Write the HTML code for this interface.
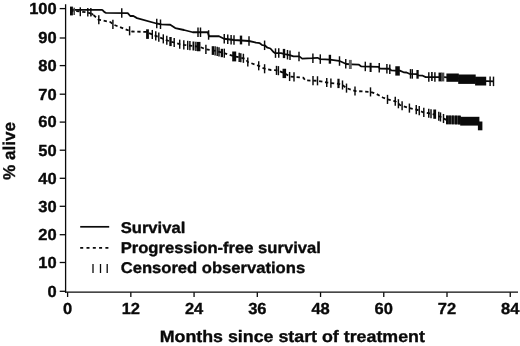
<!DOCTYPE html>
<html><head><meta charset="utf-8"><title>Survival chart</title>
<style>
html,body{margin:0;padding:0;background:#fff;-webkit-font-smoothing:antialiased;}
svg text{text-rendering:geometricPrecision;}
body{width:520px;height:346px;overflow:hidden;position:relative;font-family:"Liberation Sans",sans-serif;}
</style></head><body>
<svg width="520" height="346" viewBox="0 0 520 346" style="position:absolute;left:0;top:0;display:block;will-change:transform;transform:translateZ(0)">
<rect width="520" height="346" fill="#fff"/>
<g stroke="#0a0a0a" stroke-width="1.3" fill="none">
<line x1="65.6" y1="4.3" x2="65.6" y2="292.8"/>
<line x1="65.0" y1="292.2" x2="518" y2="292.2"/>
<line x1="59.7" y1="291.30" x2="65.6" y2="291.30"/>
<line x1="59.7" y1="262.50" x2="65.6" y2="262.50"/>
<line x1="59.7" y1="234.70" x2="65.6" y2="234.70"/>
<line x1="59.7" y1="206.30" x2="65.6" y2="206.30"/>
<line x1="59.7" y1="178.30" x2="65.6" y2="178.30"/>
<line x1="59.7" y1="150.20" x2="65.6" y2="150.20"/>
<line x1="59.7" y1="122.10" x2="65.6" y2="122.10"/>
<line x1="59.7" y1="94.20" x2="65.6" y2="94.20"/>
<line x1="59.7" y1="65.60" x2="65.6" y2="65.60"/>
<line x1="59.7" y1="38.00" x2="65.6" y2="38.00"/>
<line x1="59.7" y1="8.60" x2="65.6" y2="8.60"/>
<line x1="67.60" y1="292.2" x2="67.60" y2="297"/>
<line x1="130.83" y1="292.2" x2="130.83" y2="297"/>
<line x1="194.07" y1="292.2" x2="194.07" y2="297"/>
<line x1="257.30" y1="292.2" x2="257.30" y2="297"/>
<line x1="320.54" y1="292.2" x2="320.54" y2="297"/>
<line x1="383.77" y1="292.2" x2="383.77" y2="297"/>
<line x1="447.00" y1="292.2" x2="447.00" y2="297"/>
<line x1="510.24" y1="292.2" x2="510.24" y2="297"/>
</g>
<g font-family="Liberation Sans, sans-serif" font-weight="bold" fill="#0a0a0a" stroke="#0a0a0a" stroke-width="0.35" stroke-linejoin="round">
<text transform="translate(56.70,296.60) scale(1.03,1)" font-size="16.0" text-anchor="end">0</text>
<text transform="translate(56.70,267.80) scale(1.03,1)" font-size="16.0" text-anchor="end">10</text>
<text transform="translate(56.70,240.00) scale(1.03,1)" font-size="16.0" text-anchor="end">20</text>
<text transform="translate(56.70,211.60) scale(1.03,1)" font-size="16.0" text-anchor="end">30</text>
<text transform="translate(56.70,183.60) scale(1.03,1)" font-size="16.0" text-anchor="end">40</text>
<text transform="translate(56.70,155.50) scale(1.03,1)" font-size="16.0" text-anchor="end">50</text>
<text transform="translate(56.70,127.40) scale(1.03,1)" font-size="16.0" text-anchor="end">60</text>
<text transform="translate(56.70,99.50) scale(1.03,1)" font-size="16.0" text-anchor="end">70</text>
<text transform="translate(56.70,70.90) scale(1.03,1)" font-size="16.0" text-anchor="end">80</text>
<text transform="translate(56.70,43.30) scale(1.03,1)" font-size="16.0" text-anchor="end">90</text>
<text transform="translate(56.70,13.90) scale(1.03,1)" font-size="16.0" text-anchor="end">100</text>
<text transform="translate(67.60,313.90) scale(1.03,1)" font-size="16.0" text-anchor="middle">0</text>
<text transform="translate(130.83,313.90) scale(1.03,1)" font-size="16.0" text-anchor="middle">12</text>
<text transform="translate(194.07,313.90) scale(1.03,1)" font-size="16.0" text-anchor="middle">24</text>
<text transform="translate(257.30,313.90) scale(1.03,1)" font-size="16.0" text-anchor="middle">36</text>
<text transform="translate(320.54,313.90) scale(1.03,1)" font-size="16.0" text-anchor="middle">48</text>
<text transform="translate(383.77,313.90) scale(1.03,1)" font-size="16.0" text-anchor="middle">60</text>
<text transform="translate(447.00,313.90) scale(1.03,1)" font-size="16.0" text-anchor="middle">72</text>
<text transform="translate(510.24,313.90) scale(1.03,1)" font-size="16.0" text-anchor="middle">84</text>
<text transform="translate(292.30,341.60) scale(1.079,1)" font-size="16.5" text-anchor="middle">Months since start of treatment</text>
<text transform="translate(14.90,151.00) rotate(-90)" font-size="17.1" text-anchor="middle">% alive</text>
<text transform="translate(120.70,233.00) scale(1.064,1)" font-size="15.6" text-anchor="start">Survival</text>
<text transform="translate(120.70,253.00) scale(1.064,1)" font-size="15.6" text-anchor="start">Progression-free survival</text>
<text transform="translate(120.70,272.60) scale(1.064,1)" font-size="15.6" text-anchor="start">Censored observations</text>
</g>
<line x1="80.2" y1="226.8" x2="109.2" y2="226.8" stroke="#0a0a0a" stroke-width="1.7"/>
<line x1="80.2" y1="247.9" x2="108.6" y2="247.9" stroke="#0a0a0a" stroke-width="1.8" stroke-dasharray="3 3.3"/>
<line x1="93.0" y1="264" x2="93.0" y2="273" stroke="#0a0a0a" stroke-width="1.3"/>
<line x1="100.5" y1="264" x2="100.5" y2="273" stroke="#0a0a0a" stroke-width="1.3"/>
<line x1="107.2" y1="264" x2="107.2" y2="273" stroke="#0a0a0a" stroke-width="1.3"/>
<path d="M70.25,9.80 L101.70,9.80 L103.00,10.60 L104.50,12.20 L106.00,12.80 L127.75,13.10 L130.25,16.00 L133.40,16.00 L137.00,18.10 L156.50,23.50 L161.50,24.40 L170.25,24.75 L175.25,28.10 L184.00,30.00 L192.75,32.25 L207.75,32.25 L209.00,36.25 L219.00,36.25 L224.00,38.75 L234.00,40.00 L249.00,41.00 L254.00,42.20 L256.00,42.70 L259.80,43.20 L262.25,45.10 L264.65,45.30 L267.50,47.70 L270.40,48.50 L273.80,52.30 L275.20,53.10 L281.00,53.10 L284.80,54.10 L289.65,55.20 L293.50,56.40 L299.30,56.40 L302.20,58.60 L312.60,58.20 L317.40,57.80 L320.30,59.10 L329.90,59.60 L339.00,60.80 L342.40,62.30 L346.20,64.00 L352.00,64.30 L358.60,64.60 L361.00,66.30 L378.80,66.80 L379.70,68.50 L389.30,68.75 L391.30,70.40 L395.10,70.70 L399.80,70.60 L403.60,72.30 L406.50,72.50 L409.40,73.80 L417.10,74.10 L418.00,75.40 L422.80,75.70 L425.70,77.10 L444.00,77.10 L460.00,78.50 L480.00,80.90 L494.00,81.40" fill="none" stroke="#0a0a0a" stroke-width="1.8" stroke-linejoin="round"/>
<path d="M70.25,10.75 L80.00,11.50 L88.00,12.50 L92.75,14.40 L96.00,17.30 L98.40,19.60 L100.00,20.00 L110.50,22.10 L112.90,24.40 L118.00,26.40 L127.00,29.80 L129.60,30.80 L132.00,31.50 L146.00,31.90 L155.00,35.60 L163.00,38.75 L170.00,41.40 L174.20,42.50 L179.70,44.20 L184.00,44.90 L190.00,45.60 L200.00,46.90 L206.00,49.40 L214.00,50.60 L224.00,53.10 L234.00,56.30 L240.00,57.50 L245.50,58.80 L247.80,62.00 L249.50,62.60 L255.90,64.90 L258.70,65.80 L264.60,68.75 L270.90,70.00 L278.00,70.50 L284.00,73.00 L289.60,76.50 L294.00,76.90 L303.40,77.75 L305.25,80.40 L317.50,80.80 L326.75,82.50 L330.90,83.10 L338.50,83.75 L342.50,85.00 L346.50,88.10 L355.00,91.00 L370.50,91.90 L376.50,94.00 L382.75,97.50 L387.50,99.40 L395.25,101.25 L400.00,105.00 L407.50,107.50 L409.40,108.10 L417.75,110.00 L423.00,112.25 L430.00,113.50 L434.50,114.50 L439.60,116.50 L443.50,118.50 L446.50,119.90 L460.00,120.40 L461.00,121.20 L478.50,121.40 L480.20,125.90" fill="none" stroke="#0a0a0a" stroke-width="1.8" stroke-dasharray="3.3 2.7" stroke-linejoin="round"/>
<line x1="446.2" y1="120" x2="461" y2="120.4" stroke="#0a0a0a" stroke-width="2.4"/>
<polygon points="91.4,12.4 94,14.2 91.4,16" fill="#0a0a0a"/>
<rect x="70.00" y="6.60" width="2.90" height="8.80" fill="#0a0a0a"/>
<rect x="73.40" y="7.70" width="1.60" height="7.30" fill="#4a4a4a"/>
<line x1="121.75" y1="8.27" x2="121.75" y2="17.77" stroke="#0a0a0a" stroke-width="1.45"/>
<line x1="156.75" y1="18.80" x2="156.75" y2="28.30" stroke="#0a0a0a" stroke-width="1.45"/>
<line x1="160.50" y1="19.47" x2="160.50" y2="28.97" stroke="#0a0a0a" stroke-width="1.45"/>
<line x1="198.00" y1="27.50" x2="198.00" y2="37.00" stroke="#0a0a0a" stroke-width="1.45"/>
<line x1="200.50" y1="27.50" x2="200.50" y2="37.00" stroke="#0a0a0a" stroke-width="1.45"/>
<line x1="208.60" y1="30.22" x2="208.60" y2="39.72" stroke="#0a0a0a" stroke-width="1.45"/>
<line x1="224.25" y1="34.03" x2="224.25" y2="43.53" stroke="#0a0a0a" stroke-width="1.45"/>
<line x1="227.75" y1="34.47" x2="227.75" y2="43.97" stroke="#0a0a0a" stroke-width="1.45"/>
<line x1="231.10" y1="34.89" x2="231.10" y2="44.39" stroke="#0a0a0a" stroke-width="1.45"/>
<line x1="234.00" y1="35.25" x2="234.00" y2="44.75" stroke="#0a0a0a" stroke-width="1.45"/>
<rect x="239.80" y="35.60" width="2.40" height="8.80" fill="#0a0a0a"/>
<line x1="249.00" y1="36.25" x2="249.00" y2="45.75" stroke="#0a0a0a" stroke-width="1.45"/>
<line x1="264.60" y1="40.55" x2="264.60" y2="50.05" stroke="#0a0a0a" stroke-width="1.45"/>
<line x1="275.50" y1="48.35" x2="275.50" y2="57.85" stroke="#0a0a0a" stroke-width="1.45"/>
<line x1="278.75" y1="48.35" x2="278.75" y2="57.85" stroke="#0a0a0a" stroke-width="1.45"/>
<rect x="282.80" y="48.90" width="2.40" height="9.20" fill="#0a0a0a"/>
<line x1="287.50" y1="49.96" x2="287.50" y2="59.46" stroke="#0a0a0a" stroke-width="1.45"/>
<line x1="290.00" y1="50.56" x2="290.00" y2="60.06" stroke="#0a0a0a" stroke-width="1.45"/>
<line x1="299.00" y1="51.65" x2="299.00" y2="61.15" stroke="#0a0a0a" stroke-width="1.45"/>
<line x1="312.90" y1="53.43" x2="312.90" y2="62.93" stroke="#0a0a0a" stroke-width="1.45"/>
<line x1="320.30" y1="54.35" x2="320.30" y2="63.85" stroke="#0a0a0a" stroke-width="1.45"/>
<rect x="328.70" y="54.80" width="2.40" height="8.90" fill="#0a0a0a"/>
<line x1="339.50" y1="56.27" x2="339.50" y2="65.77" stroke="#0a0a0a" stroke-width="1.45"/>
<line x1="345.75" y1="59.05" x2="345.75" y2="68.55" stroke="#0a0a0a" stroke-width="1.45"/>
<rect x="348.90" y="59.90" width="2.90" height="9.10" fill="#666"/>
<line x1="365.30" y1="61.67" x2="365.30" y2="71.17" stroke="#0a0a0a" stroke-width="1.45"/>
<rect x="369.60" y="62.80" width="2.00" height="9.20" fill="#0a0a0a"/>
<line x1="379.25" y1="62.90" x2="379.25" y2="72.40" stroke="#0a0a0a" stroke-width="1.45"/>
<line x1="386.90" y1="63.94" x2="386.90" y2="73.44" stroke="#0a0a0a" stroke-width="1.45"/>
<line x1="389.80" y1="64.41" x2="389.80" y2="73.91" stroke="#0a0a0a" stroke-width="1.45"/>
<rect x="395.30" y="66.25" width="4.50" height="9.35" fill="#0a0a0a"/>
<line x1="410.50" y1="69.09" x2="410.50" y2="78.59" stroke="#0a0a0a" stroke-width="1.45"/>
<line x1="412.30" y1="69.16" x2="412.30" y2="78.66" stroke="#0a0a0a" stroke-width="1.45"/>
<rect x="416.40" y="70.00" width="2.30" height="8.70" fill="#0a0a0a"/>
<line x1="428.80" y1="72.35" x2="428.80" y2="81.85" stroke="#0a0a0a" stroke-width="1.45"/>
<rect x="431.10" y="72.00" width="1.60" height="9.00" fill="#0a0a0a"/>
<line x1="434.90" y1="72.35" x2="434.90" y2="81.85" stroke="#0a0a0a" stroke-width="1.45"/>
<rect x="438.50" y="72.60" width="3.00" height="8.80" fill="#0a0a0a"/>
<rect x="441.10" y="72.60" width="3.20" height="8.80" fill="#4a4a4a"/>
<rect x="446.40" y="73.50" width="12.40" height="8.30" fill="#0a0a0a"/>
<rect x="458.20" y="74.50" width="17.50" height="9.40" fill="#0a0a0a"/>
<rect x="475.10" y="76.70" width="11.10" height="8.80" fill="#0a0a0a"/>
<line x1="490.10" y1="76.51" x2="490.10" y2="86.01" stroke="#0a0a0a" stroke-width="1.45"/>
<line x1="493.50" y1="76.63" x2="493.50" y2="86.13" stroke="#0a0a0a" stroke-width="1.45"/>
<rect x="79.60" y="7.30" width="1.40" height="8.90" fill="#0a0a0a"/>
<rect x="87.10" y="8.00" width="1.40" height="8.50" fill="#0a0a0a"/>
<rect x="90.15" y="8.00" width="1.40" height="8.50" fill="#0a0a0a"/>
<line x1="98.80" y1="15.15" x2="98.80" y2="24.25" stroke="#0a0a0a" stroke-width="1.45"/>
<line x1="112.90" y1="19.85" x2="112.90" y2="28.95" stroke="#0a0a0a" stroke-width="1.45"/>
<line x1="129.60" y1="26.25" x2="129.60" y2="35.35" stroke="#0a0a0a" stroke-width="1.45"/>
<rect x="146.10" y="29.30" width="2.80" height="9.60" fill="#0a0a0a"/>
<line x1="152.30" y1="29.94" x2="152.30" y2="39.04" stroke="#0a0a0a" stroke-width="1.45"/>
<line x1="155.75" y1="31.35" x2="155.75" y2="40.45" stroke="#0a0a0a" stroke-width="1.45"/>
<line x1="158.80" y1="32.55" x2="158.80" y2="41.65" stroke="#0a0a0a" stroke-width="1.45"/>
<line x1="163.30" y1="34.31" x2="163.30" y2="43.41" stroke="#0a0a0a" stroke-width="1.45"/>
<line x1="166.80" y1="35.64" x2="166.80" y2="44.74" stroke="#0a0a0a" stroke-width="1.45"/>
<rect x="169.30" y="37.00" width="2.40" height="9.10" fill="#0a0a0a"/>
<line x1="174.20" y1="37.95" x2="174.20" y2="47.05" stroke="#0a0a0a" stroke-width="1.45"/>
<line x1="179.70" y1="39.65" x2="179.70" y2="48.75" stroke="#0a0a0a" stroke-width="1.45"/>
<line x1="183.80" y1="40.32" x2="183.80" y2="49.42" stroke="#0a0a0a" stroke-width="1.45"/>
<line x1="187.70" y1="40.78" x2="187.70" y2="49.88" stroke="#0a0a0a" stroke-width="1.45"/>
<line x1="189.90" y1="41.04" x2="189.90" y2="50.14" stroke="#0a0a0a" stroke-width="1.45"/>
<rect x="192.50" y="41.50" width="1.90" height="9.00" fill="#0a0a0a"/>
<line x1="195.90" y1="41.82" x2="195.90" y2="50.92" stroke="#0a0a0a" stroke-width="1.45"/>
<rect x="196.90" y="41.90" width="3.55" height="9.35" fill="#0a0a0a"/>
<line x1="205.90" y1="44.81" x2="205.90" y2="53.91" stroke="#0a0a0a" stroke-width="1.45"/>
<rect x="211.70" y="46.20" width="2.30" height="8.70" fill="#0a0a0a"/>
<line x1="215.10" y1="46.33" x2="215.10" y2="55.42" stroke="#0a0a0a" stroke-width="1.45"/>
<line x1="217.20" y1="46.85" x2="217.20" y2="55.95" stroke="#0a0a0a" stroke-width="1.45"/>
<line x1="219.00" y1="47.30" x2="219.00" y2="56.40" stroke="#0a0a0a" stroke-width="1.45"/>
<rect x="220.70" y="48.80" width="2.30" height="8.40" fill="#0a0a0a"/>
<line x1="224.30" y1="48.65" x2="224.30" y2="57.75" stroke="#0a0a0a" stroke-width="1.45"/>
<rect x="232.20" y="51.50" width="4.00" height="9.90" fill="#0a0a0a"/>
<line x1="239.20" y1="52.79" x2="239.20" y2="61.89" stroke="#0a0a0a" stroke-width="1.45"/>
<line x1="240.80" y1="53.14" x2="240.80" y2="62.24" stroke="#0a0a0a" stroke-width="1.45"/>
<line x1="243.40" y1="53.75" x2="243.40" y2="62.85" stroke="#0a0a0a" stroke-width="1.45"/>
<line x1="247.80" y1="57.45" x2="247.80" y2="66.55" stroke="#0a0a0a" stroke-width="1.45"/>
<line x1="258.70" y1="61.25" x2="258.70" y2="70.35" stroke="#0a0a0a" stroke-width="1.45"/>
<line x1="264.60" y1="64.20" x2="264.60" y2="73.30" stroke="#0a0a0a" stroke-width="1.45"/>
<line x1="276.50" y1="65.84" x2="276.50" y2="74.94" stroke="#0a0a0a" stroke-width="1.45"/>
<line x1="278.40" y1="66.12" x2="278.40" y2="75.22" stroke="#0a0a0a" stroke-width="1.45"/>
<rect x="282.55" y="68.75" width="3.55" height="9.35" fill="#0a0a0a"/>
<line x1="289.60" y1="71.95" x2="289.60" y2="81.05" stroke="#0a0a0a" stroke-width="1.45"/>
<line x1="294.00" y1="72.35" x2="294.00" y2="81.45" stroke="#0a0a0a" stroke-width="1.45"/>
<line x1="313.00" y1="76.10" x2="313.00" y2="85.20" stroke="#0a0a0a" stroke-width="1.45"/>
<line x1="317.50" y1="76.25" x2="317.50" y2="85.35" stroke="#0a0a0a" stroke-width="1.45"/>
<line x1="326.75" y1="77.95" x2="326.75" y2="87.05" stroke="#0a0a0a" stroke-width="1.45"/>
<line x1="330.90" y1="78.55" x2="330.90" y2="87.65" stroke="#0a0a0a" stroke-width="1.45"/>
<rect x="337.40" y="78.75" width="2.20" height="9.35" fill="#0a0a0a"/>
<line x1="342.50" y1="80.45" x2="342.50" y2="89.55" stroke="#0a0a0a" stroke-width="1.45"/>
<line x1="346.50" y1="83.55" x2="346.50" y2="92.65" stroke="#0a0a0a" stroke-width="1.45"/>
<line x1="355.00" y1="86.45" x2="355.00" y2="95.55" stroke="#0a0a0a" stroke-width="1.45"/>
<line x1="370.50" y1="87.35" x2="370.50" y2="96.45" stroke="#0a0a0a" stroke-width="1.45"/>
<line x1="387.50" y1="94.85" x2="387.50" y2="103.95" stroke="#0a0a0a" stroke-width="1.45"/>
<line x1="395.25" y1="96.70" x2="395.25" y2="105.80" stroke="#0a0a0a" stroke-width="1.45"/>
<line x1="398.40" y1="99.19" x2="398.40" y2="108.29" stroke="#0a0a0a" stroke-width="1.45"/>
<line x1="402.10" y1="101.15" x2="402.10" y2="110.25" stroke="#0a0a0a" stroke-width="1.45"/>
<line x1="409.40" y1="103.55" x2="409.40" y2="112.65" stroke="#0a0a0a" stroke-width="1.45"/>
<line x1="416.25" y1="105.11" x2="416.25" y2="114.21" stroke="#0a0a0a" stroke-width="1.45"/>
<line x1="419.25" y1="106.09" x2="419.25" y2="115.19" stroke="#0a0a0a" stroke-width="1.45"/>
<line x1="423.80" y1="107.84" x2="423.80" y2="116.94" stroke="#0a0a0a" stroke-width="1.45"/>
<line x1="428.75" y1="108.73" x2="428.75" y2="117.83" stroke="#0a0a0a" stroke-width="1.45"/>
<line x1="431.00" y1="109.17" x2="431.00" y2="118.27" stroke="#0a0a0a" stroke-width="1.45"/>
<rect x="433.30" y="109.50" width="2.80" height="9.30" fill="#0a0a0a"/>
<line x1="438.80" y1="111.64" x2="438.80" y2="120.74" stroke="#0a0a0a" stroke-width="1.45"/>
<line x1="440.50" y1="112.41" x2="440.50" y2="121.51" stroke="#0a0a0a" stroke-width="1.45"/>
<line x1="443.50" y1="113.95" x2="443.50" y2="123.05" stroke="#0a0a0a" stroke-width="1.45"/>
<rect x="446.20" y="115.60" width="14.40" height="8.70" fill="#5a5a5a"/>
<rect x="446.00" y="115.50" width="2.70" height="8.70" fill="#0a0a0a"/>
<rect x="449.10" y="115.50" width="1.80" height="8.70" fill="#0a0a0a"/>
<rect x="451.80" y="115.50" width="2.00" height="8.80" fill="#0a0a0a"/>
<rect x="454.80" y="115.60" width="2.40" height="8.80" fill="#0a0a0a"/>
<rect x="457.80" y="115.70" width="3.00" height="8.80" fill="#0a0a0a"/>
<rect x="460.20" y="116.80" width="19.20" height="8.80" fill="#0a0a0a"/>
<rect x="477.90" y="121.50" width="4.50" height="8.80" fill="#0a0a0a"/>
</svg>
</body></html>
